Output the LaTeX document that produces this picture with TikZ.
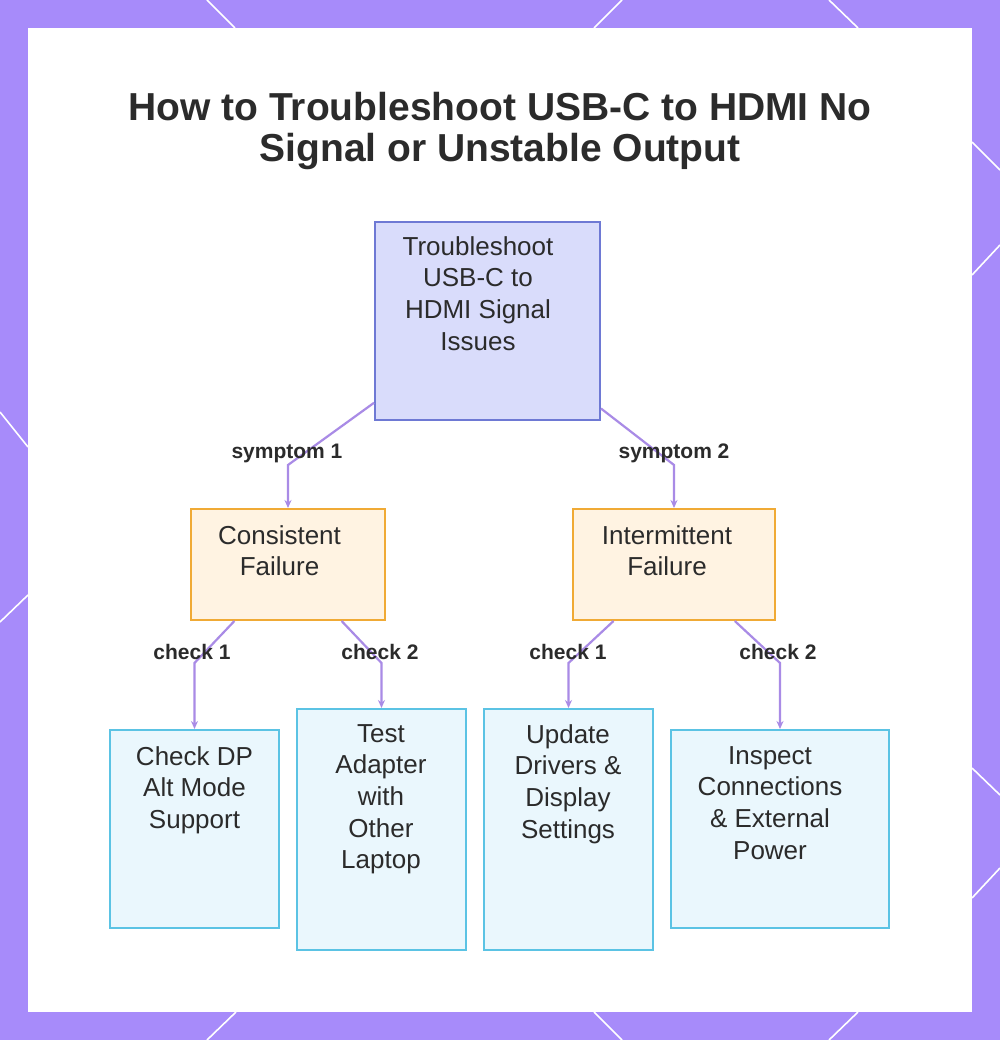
\documentclass[tikz,border=0pt]{standalone}
\usepackage{fontspec}
\setmainfont{Liberation Sans}
\usetikzlibrary{arrows.meta}

\definecolor{framepurple}{HTML}{A78BFA}
\definecolor{rootfill}{HTML}{D9DCFB}
\definecolor{rootline}{HTML}{6E79D4}
\definecolor{failfill}{HTML}{FFF3E2}
\definecolor{failline}{HTML}{F0AA35}
\definecolor{stepfill}{HTML}{EAF7FD}
\definecolor{stepline}{HTML}{5BC3E4}
\definecolor{linkpurple}{HTML}{A98BE6}
\definecolor{inktext}{HTML}{2B2B2B}

\begin{document}
\begin{tikzpicture}[x=1pt, y=-1pt,
  rootbox/.style={draw=rootline, fill=rootfill, line width=2pt, inner sep=0pt},
  failbox/.style={draw=failline, fill=failfill, line width=2pt, inner sep=0pt},
  stepbox/.style={draw=stepline, fill=stepfill, line width=2pt, inner sep=0pt},
  boxtext/.style={anchor=north, align=center, inner sep=0pt, text=inktext, font=\fontsize{26}{31.7}\selectfont},
  linklabel/.style={inner sep=0pt, text=inktext, font=\fontsize{21}{25}\selectfont\bfseries},
  link/.style={draw=linkpurple, line width=2.2pt, -{Stealth[length=8pt, width=7pt]}},
  hexline/.style={draw=white, line width=1.6pt}
]
\useasboundingbox (0,0) rectangle (1000,1040);

% Frame and white card
\fill[framepurple] (0,0) rectangle (1000,1040);
\fill[white] (28,28) rectangle (972,1012);

% White lines on the frame
\draw[hexline] (207,0) -- (235,28);
\draw[hexline] (622,0) -- (594,28);
\draw[hexline] (829,0) -- (858,28);
\draw[hexline] (236,1012) -- (207,1040);
\draw[hexline] (594,1012) -- (622,1040);
\draw[hexline] (858,1012) -- (829,1040);
\draw[hexline] (972,142) -- (1000,170);
\draw[hexline] (972,275) -- (1000,245);
\draw[hexline] (972,768) -- (1000,795);
\draw[hexline] (972,898) -- (1000,868);
\draw[hexline] (0,412) -- (28,447);
\draw[hexline] (0,622) -- (28,595);

% Title
\node[anchor=north, align=center, inner sep=0pt, text=inktext, font=\fontsize{39}{41}\selectfont\bfseries] (title) at (500,92)
  {How to Troubleshoot USB-C to HDMI No\\Signal or Unstable Output};

% Boxes
\node[rootbox, minimum width=225pt, minimum height=198pt] (root) at (487.5,321) {};
\node[boxtext] (roottext) at (478,236) {Troubleshoot\\USB-C to\\HDMI Signal\\Issues};

\node[failbox, minimum width=194pt, minimum height=111pt] (consistent) at (288,564.5) {};
\node[boxtext] (consistenttext) at (279.5,525) {Consistent\\Failure};
\node[failbox, minimum width=202pt, minimum height=111pt] (intermittent) at (674,564.5) {};
\node[boxtext] (intermittenttext) at (667,525) {Intermittent\\Failure};

\node[stepbox, minimum width=169pt, minimum height=198pt] (dpmode) at (194.5,829) {};
\node[boxtext] (dpmodetext) at (194.5,746) {Check DP\\Alt Mode\\Support};
\node[stepbox, minimum width=169pt, minimum height=241pt] (otherlaptop) at (381.5,829.5) {};
\node[boxtext] (otherlaptoptext) at (381,724) {Test\\Adapter\\with\\Other\\Laptop};
\node[stepbox, minimum width=169pt, minimum height=241pt] (drivers) at (568.5,829.5) {};
\node[boxtext] (driverstext) at (568,724) {Update\\Drivers \&\\Display\\Settings};
\node[stepbox, minimum width=218pt, minimum height=198pt] (power) at (780,829) {};
\node[boxtext] (powertext) at (770,746) {Inspect\\Connections\\\& External\\Power};

% Connectors
\coordinate (bendA) at (288,465);
\coordinate (bendB) at (674,465);
\coordinate (bendC) at (194.5,663);
\coordinate (bendD) at (381.5,663);
\coordinate (bendE) at (568.5,663);
\coordinate (bendF) at (780,663);
\draw[link] (root) -- (bendA) -- (consistent);
\draw[link] (root) -- (bendB) -- (intermittent);
\draw[link] (consistent) -- (bendC) -- (dpmode);
\draw[link] (consistent) -- (bendD) -- (otherlaptop);
\draw[link] (intermittent) -- (bendE) -- (drivers);
\draw[link] (intermittent) -- (bendF) -- (power);

% Connector labels
\node[linklabel] (sym1) at (287,453) {symptom 1};
\node[linklabel] (sym2) at (674,453) {symptom 2};
\node[linklabel] (chk1a) at (192,652) {check 1};
\node[linklabel] (chk2a) at (380,652) {check 2};
\node[linklabel] (chk1b) at (568,652) {check 1};
\node[linklabel] (chk2b) at (778,652) {check 2};
\end{tikzpicture}
\end{document}
